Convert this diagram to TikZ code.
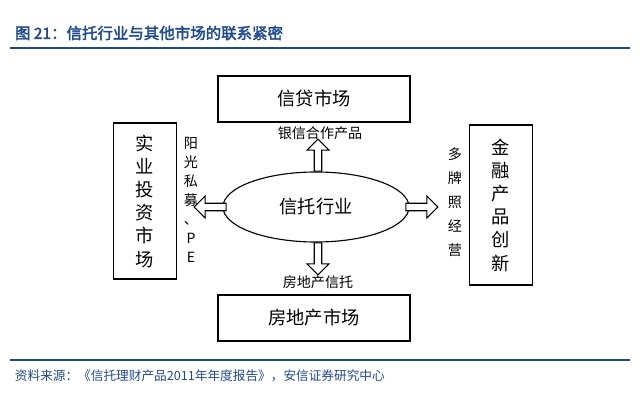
\documentclass[tikz,border=0pt]{standalone}
\usepackage{fontspec}
\setmainfont{Liberation Sans}
\newfontfamily\cjk[AutoFakeBold=2.5]{Noto Sans CJK SC}
\usetikzlibrary{shapes.geometric,shapes.arrows}
\definecolor{titleblue}{RGB}{31,73,145}
\tikzset{
  market/.style={draw, thick, minimum width=4.8cm, minimum height=1.15cm, font=\cjk\fontsize{13}{15}\selectfont},
  sidebox/.style={draw, thick, minimum width=1.58cm, minimum height=3.9cm, align=center, font=\cjk\fontsize{13}{16.5}\selectfont},
  blockarrow/.style={single arrow, draw, thick, fill=white, minimum width=0.55cm, minimum height=0.8cm, single arrow head extend=0.14cm, inner sep=0.06cm},
  lbl/.style={font=\cjk\fontsize{10}{12}\selectfont, align=center}
}
\begin{document}
\begin{tikzpicture}[x=0.025cm, y=-0.025cm]
    \useasboundingbox (0,0) rectangle (640,401);
    % Title and rules
    \node[anchor=west, text=titleblue, font=\cjk\bfseries\fontsize{11}{13}\selectfont] (title) at (10,33) {图 21：信托行业与其他市场的联系紧密};
    \draw[titleblue, thick] (10,48) -- (630,48);
    \draw[titleblue, thick] (10,360) -- (630,360);
    \node[anchor=west, text=titleblue, font=\cjk\fontsize{9}{11}\selectfont\itshape] (src) at (10,376) {资料来源：《信托理财产品2011年年度报告》，安信证券研究中心};

    % Nodes
    \node[draw, thick, ellipse, minimum width=4.65cm, minimum height=1.75cm, font=\cjk\fontsize{13}{15}\selectfont] (trust) at (316,207) {信托行业};
    \node[market] (credit) at (314,99) {信贷市场};
    \node[market] (estate) at (314,318) {房地产市场};
    \node[sidebox] (industry) at (145,201) {实\\业\\投\\资\\市\\场};
    \node[sidebox, minimum height=4cm] (finance) at (501,205) {金\\融\\产\\品\\创\\新};

    % Arrows
    \node[blockarrow, rotate=90] (aup) at (318,157) {};
    \node[blockarrow, rotate=-90] (adown) at (318,257) {};
    \node[blockarrow, rotate=180] (aleft) at (212,207) {};
    \node[blockarrow] (aright) at (420,207) {};

    % Labels
    \node[lbl] (lup) at (320,133) {银信合作产品};
    \node[lbl] (ldown) at (318,282) {房地产信托};
    \node[lbl, font=\cjk\fontsize{10}{13.5}\selectfont] (lleft) at (191,200) {阳\\光\\私\\募\\、\\P\\E};
    \node[lbl, font=\cjk\fontsize{10}{17}\selectfont] (lright) at (455,202) {多\\牌\\照\\经\\营};
\end{tikzpicture}
\end{document}
